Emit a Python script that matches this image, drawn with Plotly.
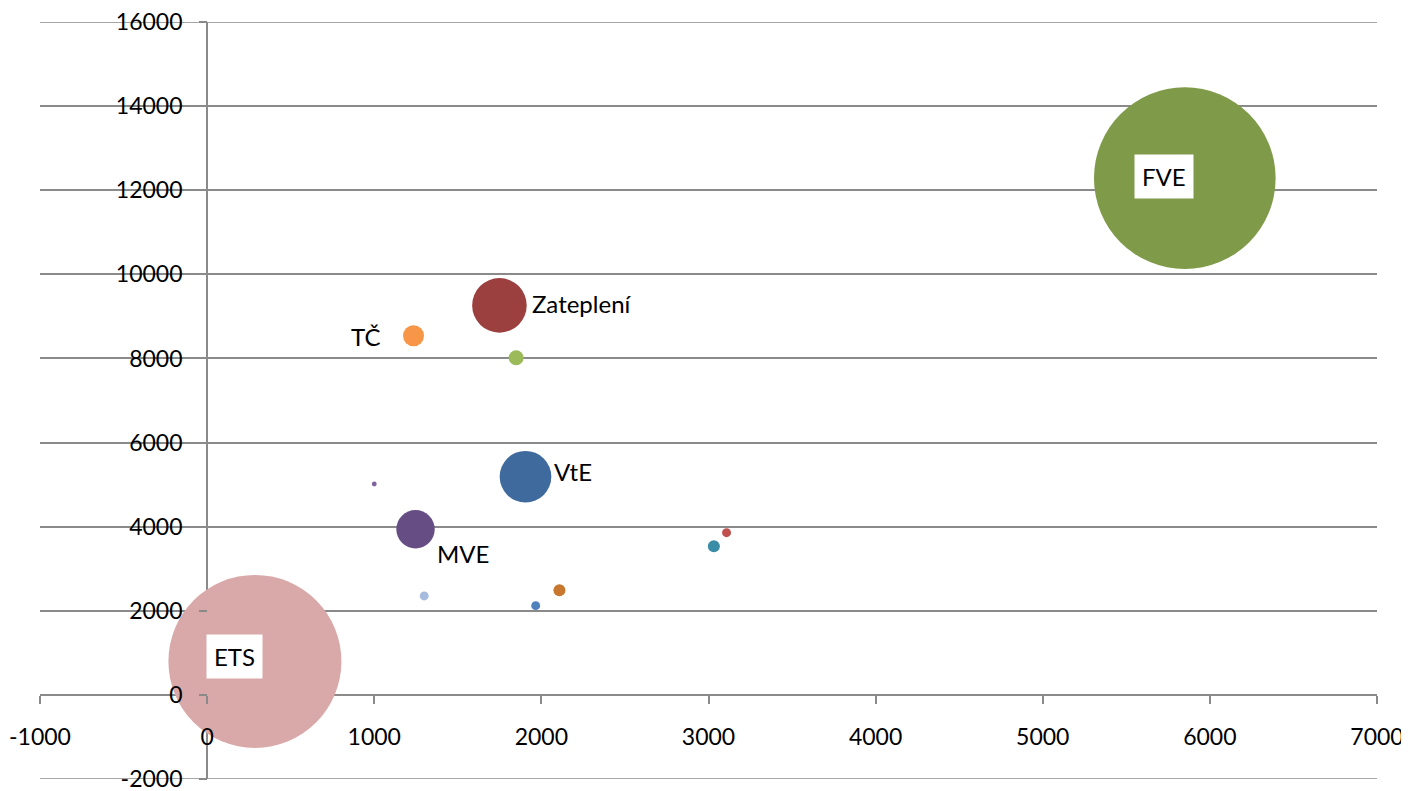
import plotly.graph_objects as go

# ---- data ----
names = ["ETS", "FVE", "Zateplení", "TČ", "zelená", "VtE", "malá fialová", "MVE",
         "světle modrá", "modrá", "oranžová", "tyrkysová", "červená"]
x_vals = [286, 5850, 1749, 1235, 1849, 1905, 1000, 1247, 1299, 1966, 2108, 3032, 3108]
y_vals = [796, 12286, 9261, 8539, 8016, 5188, 5014, 3938, 2353, 2122, 2488, 3534, 3857]
sizes = [7480, 8250, 745, 110, 56, 666, 6, 369, 20, 20, 36, 36, 20]
labels = ["ETS", "FVE", "Zateplení", "TČ", "", "VtE", "", "MVE", "", "", "", "", ""]
x_ticks = [-1000, 0, 1000, 2000, 3000, 4000, 5000, 6000, 7000]
y_ticks = [-2000, 0, 2000, 4000, 6000, 8000, 10000, 12000, 14000, 16000]

# ---- style ----
colors = ["#D9A8A8", "#7F9A48", "#9C403F", "#F79646", "#9BBB59", "#3F6A9E", "#8064A2",
          "#664E84", "#A7BCDD", "#4F81BD", "#C8772F", "#3A8DA6", "#C0504D"]
label_shift = {"ETS": (-20, 5), "FVE": (-21, 2), "Zateplení": (83, 2), "TČ": (-48, -1),
               "VtE": (47, 5), "MVE": (47, -24)}
boxed = {"ETS", "FVE"}
FONT = "Lato"
GRID = "#8A8A8A"

fig = go.Figure()
fig.add_trace(go.Scatter(
    x=x_vals, y=y_vals, mode="markers", text=names,
    marker=dict(size=sizes, sizemode="area", sizeref=0.5, color=colors,
                opacity=1, line=dict(width=0)),
    hoverinfo="text+x+y", showlegend=False,
))

annotations = []
for xv, yv, lab in zip(x_vals, y_vals, labels):
    if not lab:
        continue
    dx, dy = label_shift[lab]
    annotations.append(dict(
        x=xv, y=yv, xref="x", yref="y", text=lab, showarrow=False,
        xshift=dx, yshift=dy,
        bgcolor="white" if lab in boxed else "rgba(0,0,0,0)", borderpad=7,
        font=dict(family=FONT, size=24, color="black"),
    ))

# gridlines at the very ends of the y range (plotly skips those)
edge_lines = [dict(type="line", xref="paper", yref="y", x0=0, x1=1,
                   y0=v, y1=v, layer="below", line=dict(color=GRID, width=1.5))
              for v in (y_ticks[0], y_ticks[-1])]

fig.update_layout(
    width=1409, height=791,
    margin=dict(l=32, r=40, t=14, b=20, autoexpand=False),
    paper_bgcolor="white", plot_bgcolor="white",
    font=dict(family=FONT, size=23, color="black"),
    annotations=annotations,
    shapes=edge_lines,
    xaxis=dict(
        range=[-1000, 7000], tickvals=x_ticks, ticktext=[str(v) for v in x_ticks],
        showgrid=False, showline=False, automargin=False,
        zeroline=True, zerolinecolor=GRID, zerolinewidth=1.5,
        ticks="outside", ticklen=8, tickcolor=GRID, tickwidth=1.5,
        anchor="free", position=2000 / 18000, ticklabelstandoff=14,
        ticklabeloverflow="allow",
        tickfont=dict(family=FONT, size=23, color="black"),
    ),
    yaxis=dict(
        range=[-2000, 16000], tickvals=y_ticks, ticktext=[str(v) for v in y_ticks],
        showgrid=True, gridcolor=GRID, gridwidth=1.5, showline=False, automargin=False,
        zeroline=True, zerolinecolor=GRID, zerolinewidth=1.5,
        ticks="outside", ticklen=8, tickcolor=GRID, tickwidth=1.5,
        anchor="free", position=1000 / 8000, ticklabelstandoff=12,
        ticklabeloverflow="allow",
        tickfont=dict(family=FONT, size=23, color="black"),
    ),
)

fig.write_html("out.html")
